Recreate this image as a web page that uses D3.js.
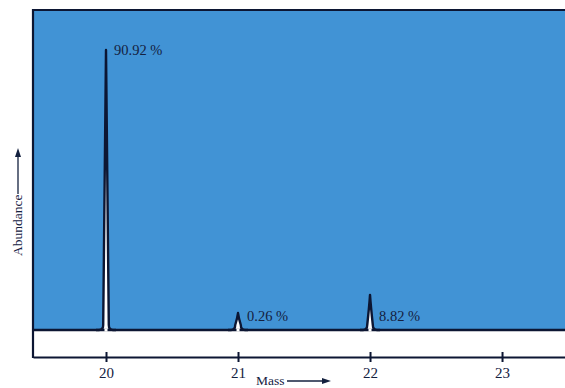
<!DOCTYPE html>
<html>
<head>
<meta charset="utf-8">
<script src="https://cdn.jsdelivr.net/npm/d3@7"></script>
<style>
  body { margin: 0; background: #fff; }
  svg { display: block; }
</style>
</head>
<body>
<div id="chart"></div>
<script>
// isotope peaks (neon)
const masses = [20, 21, 22];
const percentLabels = ['90.92 %', '0.26 %', '8.82 %'];
// drawn peak heights (relative units, 0-100)
const peakHeights = [90.92, 5.5, 11.4];
const tickValues = [20, 21, 22, 23];

const W = 565, H = 388;
const margin = { top: 10, right: 0, bottom: 31, left: 33 };
const axisY = H - margin.bottom; // 357
const ink = '#0c1633';
const serif = '"Liberation Serif", "DejaVu Serif", serif';

const svg = d3.select('#chart').append('svg').attr('width', W).attr('height', H);

const x = d3.scaleLinear().domain([19.447, 23.477]).range([margin.left, W - margin.right]);
const y = d3.scaleLinear().domain([0, 100]).range([330, 22]);
const base = y(0);

// blue panel, ends at the baseline
svg.append('rect')
  .attr('x', margin.left).attr('y', margin.top)
  .attr('width', W - margin.left).attr('height', base - margin.top)
  .attr('fill', '#4193d5');

function peakPath(m, h) {
  const p = d3.path();
  const xs = x(m), yt = y(h);
  const foot = 7, side = 2.8, rise = Math.min(5, (base - yt) * 0.3);
  p.moveTo(xs - foot - 3, base);
  p.lineTo(xs - foot, base);
  p.quadraticCurveTo(xs - side, base, xs - side, base - rise);
  p.quadraticCurveTo(xs - 0.7, yt + (base - yt) * 0.3, xs, yt);
  p.quadraticCurveTo(xs + 0.7, yt + (base - yt) * 0.3, xs + side, base - rise);
  p.quadraticCurveTo(xs + side, base, xs + foot, base);
  p.lineTo(xs + foot + 3, base);
  return p.toString();
}

// peak interiors (light) and outlines
svg.selectAll('.peakfill')
  .data(masses)
  .enter().append('path')
  .attr('class', 'peakfill')
  .attr('d', (d, i) => peakPath(d, peakHeights[i]) + 'Z')
  .attr('fill', '#fefefe');

svg.append('line')
  .attr('x1', margin.left).attr('x2', W).attr('y1', base).attr('y2', base)
  .attr('stroke', ink).attr('stroke-width', 2.4);

svg.selectAll('.peakline')
  .data(masses)
  .enter().append('path')
  .attr('class', 'peakline')
  .attr('d', (d, i) => peakPath(d, peakHeights[i]))
  .attr('fill', 'none').attr('stroke', ink).attr('stroke-width', 2.4)
  .attr('stroke-linejoin', 'round');

svg.selectAll('.peakgap')
  .data(masses)
  .enter().append('rect')
  .attr('class', 'peakgap')
  .attr('x', d => x(d) - 1.5).attr('y', base - 1.5)
  .attr('width', 3).attr('height', 3)
  .attr('fill', '#fefefe');

// frame: top and left
svg.append('line').attr('x1', margin.left).attr('x2', W).attr('y1', margin.top).attr('y2', margin.top)
  .attr('stroke', ink).attr('stroke-width', 2.2);
svg.append('line').attr('x1', margin.left).attr('x2', margin.left).attr('y1', margin.top - 1).attr('y2', axisY + 1)
  .attr('stroke', ink).attr('stroke-width', 2.2);

// x axis
const axis = svg.append('g')
  .attr('transform', `translate(0,${axisY})`)
  .call(d3.axisBottom(x).tickValues(tickValues).tickFormat(d3.format('d'))
    .tickSize(5).tickPadding(5).tickSizeOuter(0));
axis.select('.domain').attr('stroke', ink).attr('stroke-width', 2.2);
axis.selectAll('.tick line').attr('y1', -5).attr('stroke', ink).attr('stroke-width', 2);
axis.selectAll('.tick text')
  .attr('font-family', serif).attr('font-size', 15).attr('fill', '#14213f');

// peak labels
svg.selectAll('.plabel')
  .data(masses)
  .enter().append('text')
  .attr('class', 'plabel')
  .attr('x', (d, i) => x(d) + (i === 0 ? 8 : 9))
  .attr('y', (d, i) => i === 0 ? y(peakHeights[i]) + 5 : base - 9)
  .attr('font-family', serif).attr('font-size', 14.5).attr('fill', '#14213f')
  .text((d, i) => percentLabels[i]);

// axis titles with arrows
svg.append('text').attr('x', 256).attr('y', 385)
  .attr('font-family', serif).attr('font-size', 13.5).attr('fill', '#14213f').text('Mass');
svg.append('line').attr('x1', 287).attr('x2', 325).attr('y1', 381).attr('y2', 381)
  .attr('stroke', '#14213f').attr('stroke-width', 1.3);
svg.append('path').attr('d', 'M322,378L331,381L322,384Z').attr('fill', '#14213f');

svg.append('text')
  .attr('transform', 'translate(22,256) rotate(-90)')
  .attr('font-family', serif).attr('font-size', 13.5).attr('fill', '#14213f').text('Abundance');
svg.append('line').attr('x1', 18).attr('x2', 18).attr('y1', 194).attr('y2', 154)
  .attr('stroke', '#14213f').attr('stroke-width', 1.3);
svg.append('path').attr('d', 'M15,157L18,148L21,157Z').attr('fill', '#14213f');
</script>
</body>
</html>
